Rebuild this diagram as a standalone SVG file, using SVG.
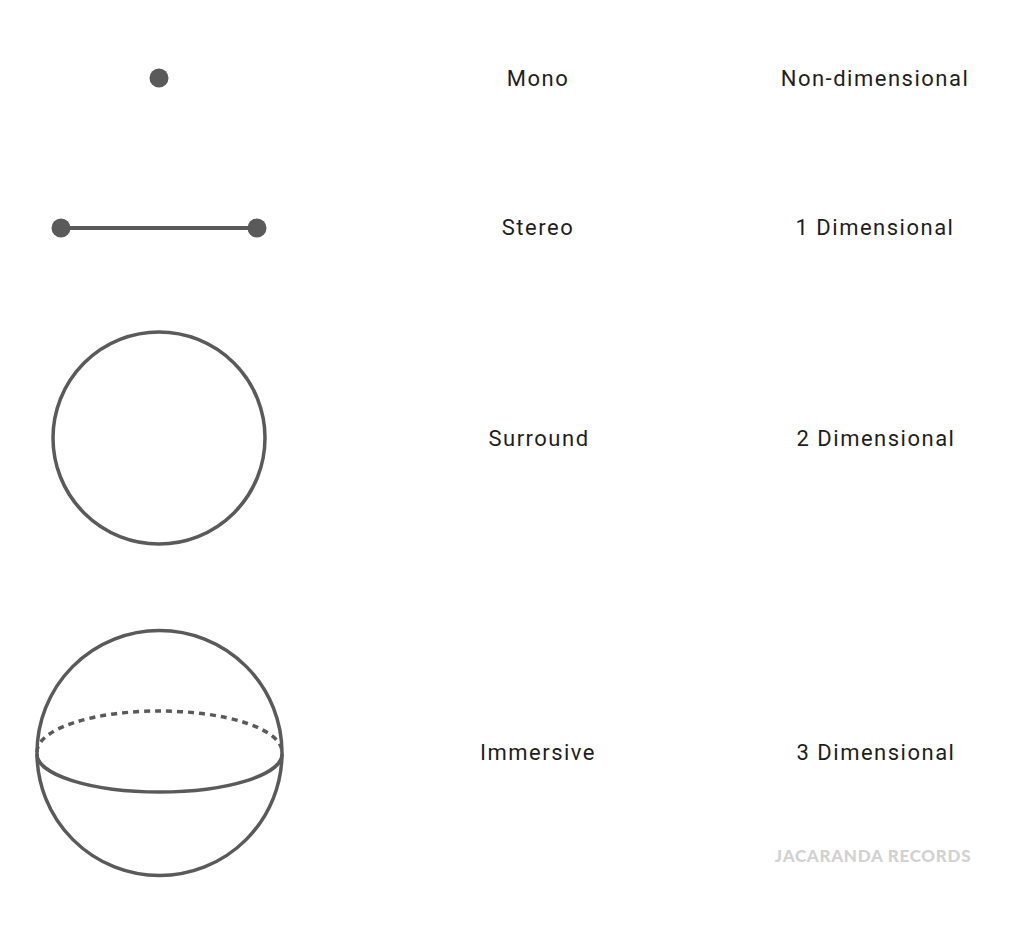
<svg xmlns="http://www.w3.org/2000/svg" width="1024" height="928" viewBox="0 0 1024 928">
<style>
.s{fill:none;stroke:#5a5a5a;stroke-width:3.5}
.d{fill:#5a5a5a}
.t{font-family:Roboto,"Liberation Sans",sans-serif;font-size:22px;fill:#1e1e1e;text-anchor:middle;letter-spacing:1.5px}
.w{font-family:Lato,"Liberation Sans",sans-serif;font-size:17px;font-weight:900;fill:#d2d2d2;text-anchor:middle;letter-spacing:0.7px}
</style>
<rect width="1024" height="928" fill="#fff"/>
<g id="mono"><circle class="d" cx="159" cy="78" r="9.5"/></g>
<g id="stereo">
<line x1="61" y1="228" x2="257" y2="228" stroke="#5a5a5a" stroke-width="4"/>
<circle class="d" cx="61" cy="228" r="9.5"/>
<circle class="d" cx="257" cy="228" r="9.5"/>
</g>
<g id="surround"><circle class="s" cx="159" cy="438" r="106"/></g>
<g id="immersive">
<circle class="s" cx="159.5" cy="753" r="122.5"/>
<path class="s" d="M37,752 A122.5,41 0 0 1 282,752" stroke-dasharray="6,5"/>
<path class="s" d="M37,754 A122.5,38 0 0 0 282,754"/>
</g>
<g id="labels">
<text class="t" x="538" y="86">Mono</text>
<text class="t" x="875" y="86">Non-dimensional</text>
<text class="t" x="538" y="235">Stereo</text>
<text class="t" x="875" y="235">1 Dimensional</text>
<text class="t" x="539" y="446">Surround</text>
<text class="t" x="876" y="446">2 Dimensional</text>
<text class="t" x="538" y="760">Immersive</text>
<text class="t" x="876" y="760">3 Dimensional</text>
<text class="w" x="873" y="862">JACARANDA RECORDS</text>
</g>
</svg>
